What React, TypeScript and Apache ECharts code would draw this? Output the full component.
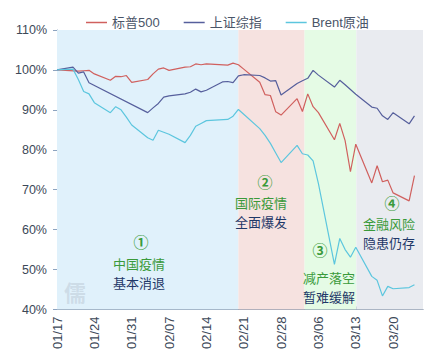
import React, { useEffect, useRef } from "react";
import * as echarts from "echarts";

// x = day offset from 2020-01-17
const spxData: [number, number][] = [
  [0, 100], [4, 99.7], [5, 99.8], [6, 99.9], [7, 99.0], [10, 97.4], [11, 98.4], [12, 98.3],
  [13, 98.6], [14, 96.9], [17, 97.6], [18, 99.0], [19, 100.2], [20, 100.5], [21, 99.9],
  [24, 100.7], [25, 100.8], [26, 101.5], [27, 101.3], [28, 101.5], [32, 101.2], [33, 101.7],
  [34, 101.3], [35, 100.2], [38, 96.9], [39, 93.8], [40, 93.6], [41, 89.5], [42, 88.7],
  [45, 92.8], [46, 89.6], [47, 94.0], [48, 90.8], [49, 89.3], [52, 82.5], [53, 86.6],
  [54, 82.3], [55, 74.5], [56, 81.4], [59, 71.7], [60, 76.0], [61, 72.0], [62, 72.4],
  [63, 69.2], [66, 67.2], [67, 73.5],
];
const sseData: [number, number][] = [
  [0, 100], [3, 100.7], [4, 99.2], [5, 99.5], [6, 96.8], [17, 89.3], [18, 90.5], [19, 91.6],
  [20, 93.2], [21, 93.5], [24, 94.0], [25, 94.4], [26, 95.2], [27, 94.5], [28, 94.9],
  [31, 97.0], [32, 97.1], [33, 96.8], [34, 98.5], [35, 98.8], [38, 98.6], [39, 98.0],
  [40, 97.2], [41, 97.3], [42, 93.7], [45, 96.6], [46, 97.3], [47, 97.9], [48, 99.9],
  [49, 98.7], [52, 95.7], [53, 97.4], [54, 96.3], [55, 95.1], [56, 93.9], [59, 90.7],
  [60, 90.4], [61, 88.5], [62, 87.6], [63, 89.3], [66, 86.5], [67, 88.5],
];
const brentData: [number, number][] = [
  [0, 100], [3, 100.2], [4, 97.6], [5, 94.6], [6, 94.0], [7, 91.8], [10, 89.3], [11, 90.8],
  [12, 90.0], [13, 88.2], [14, 86.2], [17, 83.0], [18, 82.4], [19, 84.9], [20, 84.4],
  [21, 83.9], [24, 81.8], [25, 83.6], [26, 85.9], [27, 86.6], [28, 87.3], [32, 87.6],
  [33, 88.4], [34, 90.1], [35, 88.9], [38, 85.3], [39, 83.6], [40, 81.6], [41, 79.2],
  [42, 76.8], [45, 81.1], [46, 79.0], [47, 78.7], [48, 77.2], [49, 71.5], [52, 51.3],
  [53, 57.8], [54, 55.0], [55, 53.1], [56, 55.6], [59, 48.3], [60, 47.3], [61, 43.4],
  [62, 45.8], [63, 45.2], [66, 45.5], [67, 46.2],
];
const seriesNames = ["标普500", "上证综指", "Brent原油"];
const tickDays = [0, 7, 14, 21, 28, 35, 42, 49, 56, 63];
const tickLabels = ["01/17", "01/24", "01/31", "02/07", "02/14", "02/21", "02/28", "03/06", "03/13", "03/20"];
const yTicks = [40, 50, 60, 70, 80, 90, 100, 110];
// phase bands (start day, end day)
const phaseBands: [number, number][] = [[0, 34], [34, 46.4], [46.4, 56.1], [56.1, 68.6]];

const FONT = "'Liberation Sans', 'Noto Sans CJK SC', sans-serif";
const CJK = "'Noto Sans CJK SC', sans-serif";
const GREEN = "#3a9a3a";
const NAVY = "#1f3868";

export default function App() {
  const ref = useRef<HTMLDivElement>(null);
  useEffect(() => {
    if (!ref.current) return;
    const chart = echarts.init(ref.current, null, { renderer: "svg" });
    const bandColors = ["#e0f1fb", "#f6e2e0", "#e5fbe5", "#e9ebf0"];
    const ann = (x: number, y: number, text: string, color: string, size: number, weight = "normal") => ({
      type: "text",
      x,
      y,
      style: {
        text,
        fill: color,
        font: `${weight} ${size}px ${CJK}`,
        textAlign: "center",
        textVerticalAlign: "middle",
      },
      z: 100,
    });
    chart.setOption({
      animation: false,
      backgroundColor: "#ffffff",
      textStyle: { fontFamily: FONT },
      legend: {
        data: seriesNames,
        left: 81,
        top: 11,
        icon: "rect",
        itemWidth: 21,
        itemHeight: 1.5,
        itemGap: 24,
        textStyle: { color: "#4a5568", fontSize: 13, fontFamily: FONT },
      },
      grid: { left: 57, right: 15, top: 30, bottom: 53.5 },
      xAxis: {
        type: "value",
        min: 0,
        max: 68.6,
        interval: 7,
        splitLine: { show: false },
        axisLine: { show: true, lineStyle: { color: "#6c7f99", width: 1 } },
        axisTick: {
          show: true,
          inside: true,
          length: 3,
          lineStyle: { color: "#6c7f99" },
          customValues: tickDays,
        },
        axisLabel: {
          rotate: 90,
          margin: 7,
          fontSize: 13,
          color: "#3c4858",
          customValues: tickDays,
          formatter: (v: number) => {
            const i = tickDays.indexOf(Math.round(v));
            return i >= 0 ? tickLabels[i] : "";
          },
        },
      },
      yAxis: {
        type: "value",
        min: 40,
        max: 110,
        interval: 10,
        splitLine: { show: false },
        axisLine: { show: true, lineStyle: { color: "#8ea4c0", width: 1 } },
        axisTick: { show: true, length: 4, lineStyle: { color: "#8ea4c0" }, customValues: yTicks },
        axisLabel: { fontSize: 12.5, color: "#3c4858", margin: 10, formatter: "{value}%" },
      },
      series: [
        {
          name: "bands",
          type: "line",
          data: [],
          silent: true,
          z: 1,
          markArea: {
            silent: true,
            data: phaseBands.map((b, i) => [
              { xAxis: b[0], itemStyle: { color: bandColors[i] } },
              { xAxis: b[1] },
            ]),
          },
        },
        {
          name: seriesNames[0],
          type: "line",
          data: spxData,
          symbol: "none",
          lineStyle: { color: "#d0605e", width: 1.2 },
          itemStyle: { color: "#d0605e" },
          z: 3,
        },
        {
          name: seriesNames[1],
          type: "line",
          data: sseData,
          symbol: "none",
          lineStyle: { color: "#565f9c", width: 1.2 },
          itemStyle: { color: "#565f9c" },
          z: 3,
        },
        {
          name: seriesNames[2],
          type: "line",
          data: brentData,
          symbol: "none",
          lineStyle: { color: "#5cc6de", width: 1.2 },
          itemStyle: { color: "#5cc6de" },
          z: 3,
        },
      ],
      graphic: [
        {
          type: "text",
          x: 75,
          y: 291,
          style: {
            text: "儒",
            fill: "rgba(170,180,195,0.35)",
            font: `bold 22px ${CJK}`,
            textAlign: "center",
            textVerticalAlign: "middle",
          },
          z: 50,
        },
        ann(141, 241, "①", GREEN, 15, "bold"),
        ann(139, 263, "中国疫情", GREEN, 13),
        ann(139, 282, "基本消退", NAVY, 13),
        ann(265, 181.5, "②", GREEN, 15, "bold"),
        ann(261, 202, "国际疫情", GREEN, 13),
        ann(261, 221, "全面爆发", NAVY, 13),
        ann(320, 249, "③", GREEN, 15, "bold"),
        ann(329, 277, "减产落空", GREEN, 13),
        ann(329, 296, "暂难缓解", NAVY, 13),
        ann(392, 202.5, "④", GREEN, 15, "bold"),
        ann(389, 223, "金融风险", GREEN, 13),
        ann(389, 242, "隐患仍存", NAVY, 13),
      ],
    });
    return () => chart.dispose();
  }, []);
  return (
    <div
      ref={ref}
      style={{ position: "fixed", left: 0, top: 0, width: 438, height: 363, background: "#fff" }}
    />
  );
}
